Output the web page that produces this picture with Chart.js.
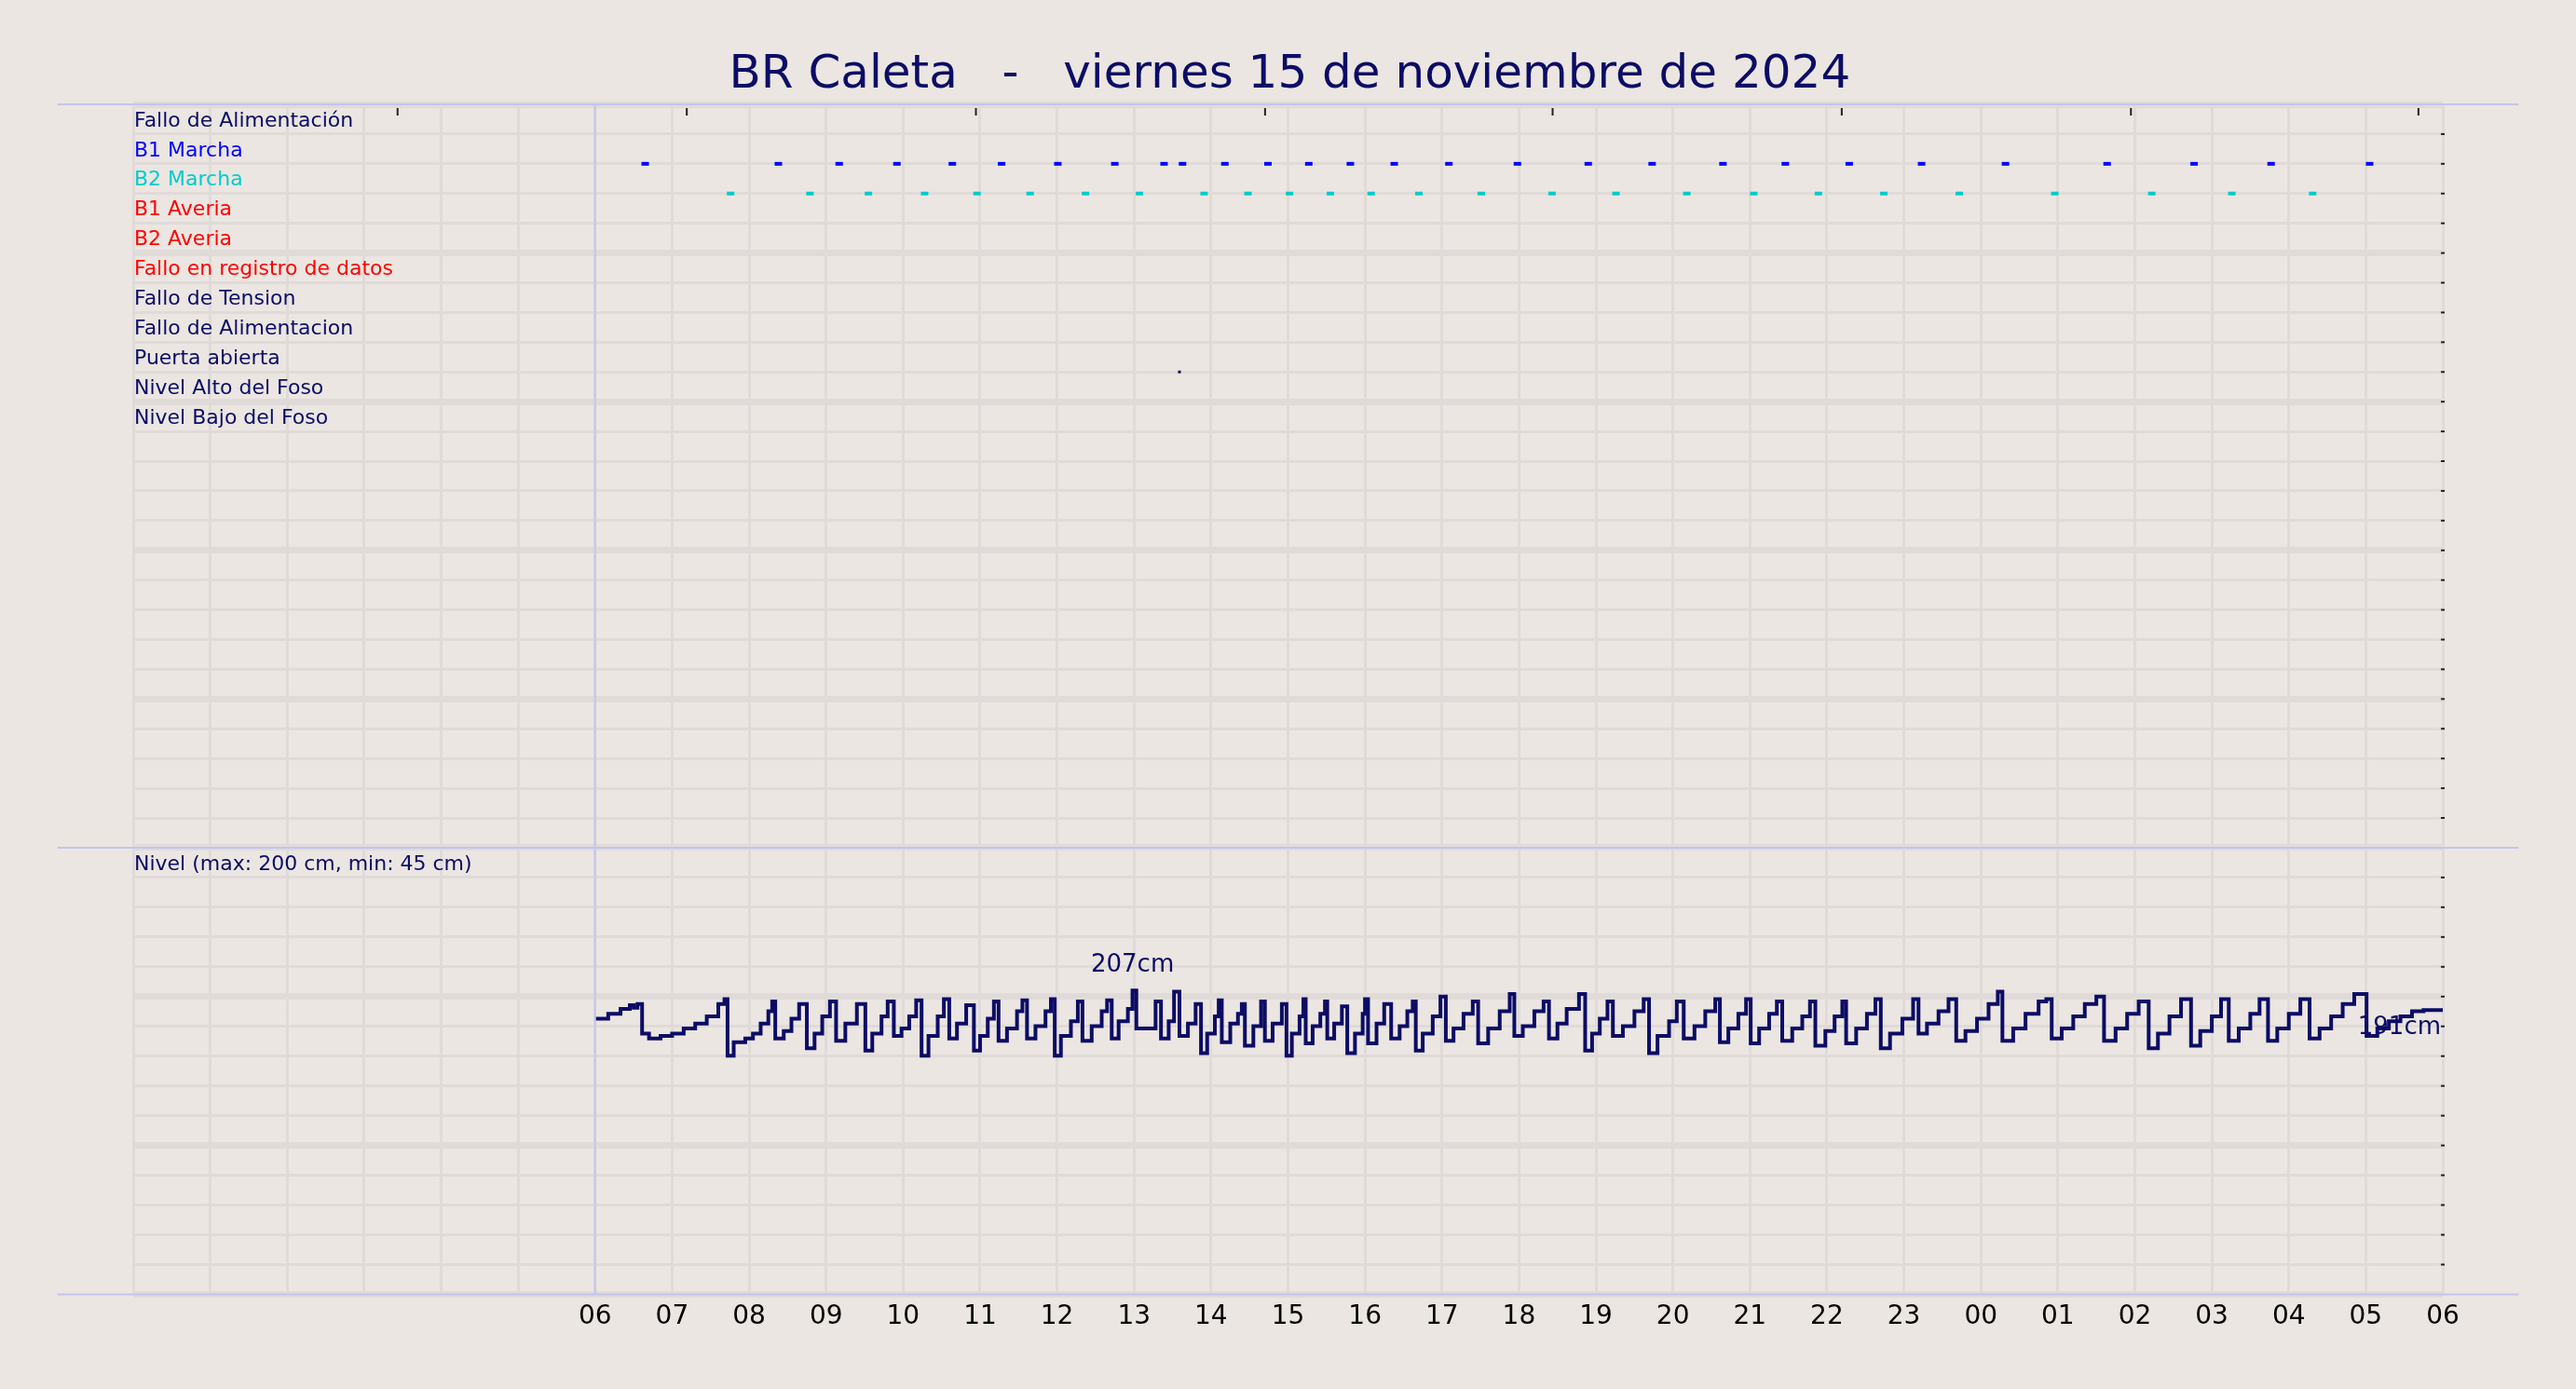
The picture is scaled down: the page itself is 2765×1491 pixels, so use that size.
<!DOCTYPE html>
<html>
<head>
<meta charset="utf-8">
<script src="https://cdn.jsdelivr.net/npm/chart.js@4"></script>
<style>
  body { margin: 0; background: #ebe6e1; }
  #wrap { width: 2765px; height: 1491px; }
</style>
</head>
<body>
<div id="wrap"><canvas id="levelChart"></canvas></div>
<script>
const title = 'BR Caleta   -   viernes 15 de noviembre de 2024';

const rowLabels = ['Fallo de Alimentación', 'B1 Marcha', 'B2 Marcha', 'B1 Averia', 'B2 Averia',
    'Fallo en registro de datos', 'Fallo de Tension', 'Fallo de Alimentacion', 'Puerta abierta',
    'Nivel Alto del Foso', 'Nivel Bajo del Foso'];
const rowColors = ['#0c0c66', '#0000ff', '#00cccc', '#ff0000', '#ff0000', '#ff0000',
    '#0c0c66', '#0c0c66', '#0c0c66', '#0c0c66', '#0c0c66'];

// event start times (hours, 24+ = next day)
const b1Marcha = [6.61, 8.34, 9.13, 9.88, 10.60, 11.24, 11.97, 12.71, 13.35, 13.59, 14.14, 14.70, 15.23,
    15.77, 16.34, 17.05, 17.94, 18.86, 19.69, 20.61, 21.42, 22.25, 23.19, 24.28, 25.60, 26.73, 27.73, 29.01];
const b2Marcha = [7.72, 8.75, 9.51, 10.24, 10.92, 11.61, 12.33, 13.03, 13.87, 14.44, 14.98, 15.51, 16.04,
    16.66, 17.47, 18.39, 19.22, 20.14, 21.01, 21.85, 22.70, 23.68, 24.92, 26.18, 27.22, 28.27];
const puertaAbierta = [13.55];

// level series (cm)
const levelTimes = [
    6.00, 6.17, 6.33, 6.45, 6.50, 6.55,
    6.61, 6.70, 6.85, 7.00, 7.15, 7.30, 7.45, 7.60, 7.68,
    7.72, 7.80, 7.95, 8.05, 8.15, 8.25, 8.30,
    8.34, 8.45, 8.55, 8.65,
    8.75, 8.85, 8.95, 9.05,
    9.13, 9.25, 9.40,
    9.51, 9.60, 9.72, 9.80,
    9.88, 9.98, 10.08, 10.17,
    10.24, 10.33, 10.45, 10.53,
    10.60, 10.70, 10.82,
    10.92, 11.00, 11.10, 11.18,
    11.24, 11.35, 11.48, 11.55,
    11.61, 11.72, 11.85, 11.92,
    11.97, 12.05, 12.18, 12.27,
    12.33, 12.45, 12.58, 12.65,
    12.71, 12.80, 12.92, 12.98,
    13.03, 13.20, 13.28,
    13.35, 13.45, 13.52,
    13.59, 13.70, 13.80,
    13.87, 13.95, 14.05, 14.10,
    14.14, 14.25, 14.35, 14.40,
    14.44, 14.55, 14.65,
    14.70, 14.80, 14.92,
    14.98, 15.05, 15.15, 15.20,
    15.23, 15.32, 15.42, 15.48,
    15.51, 15.60, 15.70,
    15.77, 15.87, 15.97, 16.00,
    16.04, 16.15, 16.25,
    16.34, 16.45, 16.55, 16.62,
    16.66, 16.75, 16.88, 16.98,
    17.05, 17.15, 17.28, 17.40,
    17.47, 17.60, 17.75, 17.88,
    17.94, 18.05, 18.20, 18.32,
    18.39, 18.50, 18.62, 18.78,
    18.86, 18.95, 19.05, 19.15,
    19.22, 19.35, 19.50, 19.62,
    19.69, 19.80, 19.95, 20.05,
    20.14, 20.28, 20.42, 20.55,
    20.61, 20.72, 20.85, 20.95,
    21.01, 21.12, 21.25, 21.35,
    21.42, 21.55, 21.68, 21.78,
    21.85, 21.98, 22.10, 22.20,
    22.25, 22.38, 22.52, 22.63,
    22.70, 22.82, 22.98, 23.12,
    23.19, 23.30, 23.45, 23.58,
    23.68, 23.80, 23.95, 24.10, 24.22,
    24.28, 24.42, 24.58, 24.75, 24.85,
    24.92, 25.05, 25.20, 25.35, 25.50,
    25.60, 25.75, 25.90, 26.05,
    26.18, 26.30, 26.45, 26.60,
    26.73, 26.85, 27.00, 27.12,
    27.22, 27.35, 27.50, 27.62,
    27.73, 27.85, 28.00, 28.15,
    28.27, 28.40, 28.55, 28.70, 28.85,
    29.01, 29.15, 29.30, 29.45, 29.60, 29.75, 30.00];
const levelValues = [
    184, 188, 192, 195, 193, 196,
    172, 168, 170, 172, 176, 180, 186, 196, 200,
    154, 165, 168, 172, 180, 190, 198,
    168, 174, 184, 196,
    160, 172, 186, 198,
    166, 180, 196,
    158, 172, 186, 198,
    170, 176, 186, 199,
    154, 170, 186, 200,
    168, 180, 195,
    158, 170, 184, 198,
    166, 176, 190, 199,
    168, 178, 190, 200,
    154, 170, 182, 198,
    166, 178, 190, 199,
    168, 182, 192, 207,
    176, 176, 198,
    168, 182, 206,
    170, 180, 196,
    156, 172, 186, 199,
    165, 180, 188, 196,
    162, 178, 198,
    166, 180, 196,
    154, 172, 186, 200,
    164, 178, 188, 198,
    168, 180, 194,
    156, 172, 188, 200,
    164, 180, 196,
    168, 178, 190, 198,
    158, 172, 186, 202,
    166, 176, 188, 198,
    164, 176, 190, 204,
    170, 178, 190, 198,
    168, 180, 192, 204,
    158, 172, 184, 198,
    170, 178, 190, 200,
    156, 170, 182, 198,
    168, 178, 190, 200,
    165, 176, 188, 200,
    164, 176, 188, 198,
    166, 176, 186, 198,
    162, 174, 186, 198,
    164, 176, 188, 200,
    160, 172, 184, 200,
    172, 180, 190, 200,
    166, 174, 184, 196, 206,
    166, 176, 188, 198, 200,
    168, 176, 186, 196, 202,
    166, 176, 188, 198,
    160, 172, 186, 200,
    162, 174, 186, 200,
    166, 176, 188, 200,
    166, 176, 188, 200,
    168, 176, 186, 196, 204,
    170, 176, 182, 186, 190, 191, 191];

const hourTicks = [6, 7, 8, 9, 10, 11, 12, 13, 14, 15, 16, 17, 18, 19, 20, 21, 22, 23, 24, 25, 26, 27, 28, 29, 30];

const S = 1.7635;
const navy = '#0c0c66';
const font = 'DejaVu Sans';

const eventPoints = (times, row) => times.map(t => ({ x: t + 0.04, y: row }));

const overlay = {
    id: 'overlay',
    beforeDraw(chart) {
        const c = chart.ctx;
        c.save();
        c.fillStyle = '#ebe6e1';
        c.fillRect(0, 0, chart.width, chart.height);
        c.restore();
    },
    afterDraw(chart) {
        const c = chart.ctx, a = chart.chartArea;
        const x = chart.scales.x, ye = chart.scales.yEv, yl = chart.scales.yLev;
        c.save();
        // panel border lines
        c.strokeStyle = '#c4c4ee';
        c.lineWidth = 2;
        [a.top, ye.bottom, a.bottom].forEach(y => {
            c.beginPath(); c.moveTo(35 * S, y); c.lineTo(1533 * S, y); c.stroke();
        });
        c.beginPath(); c.moveTo(x.getPixelForValue(6), a.top); c.lineTo(x.getPixelForValue(6), a.bottom); c.stroke();
        // small ticks at top
        c.strokeStyle = '#222';
        c.lineWidth = 2;
        [242, 418, 594, 770, 945, 1121, 1297, 1472].forEach(px => {
            c.beginPath(); c.moveTo(px * S, a.top + 4); c.lineTo(px * S, a.top + 12); c.stroke();
        });
        // right-side ticks
        for (let i = 1; i < 25; i++) {
            const y = ye.getPixelForValue(i);
            c.beginPath(); c.moveTo(a.right - 2, y); c.lineTo(a.right + 2, y); c.stroke();
        }
        for (let i = 1; i < 15; i++) {
            const y = yl.top + i * (yl.bottom - yl.top) / 15;
            c.beginPath(); c.moveTo(a.right - 2, y); c.lineTo(a.right + 2, y); c.stroke();
        }
        // title
        c.fillStyle = navy;
        c.font = `${Math.round(28.2 * S)}px "${font}"`;
        c.textAlign = 'center';
        c.textBaseline = 'middle';
        c.fillText(title, 785 * S, 46 * S);
        // row labels
        c.font = `${Math.round(12.7 * S)}px "${font}"`;
        c.textAlign = 'left';
        c.textBaseline = 'bottom';
        rowLabels.forEach((lbl, i) => {
            c.fillStyle = rowColors[i];
            c.fillText(lbl, a.left + 1, ye.getPixelForValue(i + 1) - 3);
        });
        c.fillStyle = navy;
        c.fillText('Nivel (max: 200 cm, min: 45 cm)', a.left + 1, yl.top + (yl.bottom - yl.top) / 15 - 3);
        // level annotations
        c.font = `${Math.round(15 * S)}px "${font}"`;
        c.textAlign = 'center';
        c.textBaseline = 'bottom';
        c.fillText('207cm', x.getPixelForValue(12.98), yl.getPixelForValue(207) - 8 * S);
        c.textAlign = 'right';
        c.textBaseline = 'middle';
        c.fillText('191cm', a.right - 2, yl.getPixelForValue(191) + 11 * S);
        c.restore();
    }
};

const gridColor = '#e0dbd8';

new Chart(document.getElementById('levelChart'), {
    type: 'line',
    data: {
        datasets: [
            {
                label: 'Nivel',
                data: levelTimes.map((t, i) => ({ x: t, y: levelValues[i] })),
                yAxisID: 'yLev',
                stepped: true,
                borderColor: '#0c0c66',
                borderWidth: 4,
                pointRadius: 0
            },
            {
                label: 'B1 Marcha', type: 'scatter', yAxisID: 'yEv',
                data: eventPoints(b1Marcha, 2),
                pointStyle: 'line', radius: 4, borderWidth: 4, borderColor: '#0000ff'
            },
            {
                label: 'B2 Marcha', type: 'scatter', yAxisID: 'yEv',
                data: eventPoints(b2Marcha, 3),
                pointStyle: 'line', radius: 4, borderWidth: 4, borderColor: '#00cccc'
            },
            {
                label: 'Puerta abierta', type: 'scatter', yAxisID: 'yEv',
                data: eventPoints(puertaAbierta, 9),
                pointStyle: 'line', radius: 1.5, borderWidth: 3, borderColor: '#0c0c66'
            }
        ]
    },
    options: {
        responsive: true,
        maintainAspectRatio: false,
        animation: false,
        layout: { padding: { left: 143, right: 143, top: 112, bottom: 52 } },
        plugins: { legend: { display: false }, tooltip: { enabled: false } },
        scales: {
            x: {
                type: 'linear', min: 0, max: 30,
                afterBuildTicks: axis => {
                    axis.ticks = Array.from({ length: 31 }, (_, i) => ({ value: i }));
                },
                ticks: {
                    autoSkip: false, maxRotation: 0, color: '#000',
                    font: { family: font, size: 28 }, padding: 8,
                    callback: v => hourTicks.includes(v) ? String(v % 24).padStart(2, '0') : ''
                },
                grid: { color: gridColor, lineWidth: 3, drawTicks: false },
                border: { display: false }
            },
            yLev: {
                type: 'linear', min: -40, max: 323, position: 'left',
                stack: 'panels', stackWeight: 272.5,
                afterBuildTicks: axis => {
                    axis.ticks = Array.from({ length: 16 }, (_, i) => ({ value: -40 + i * 24.2 }));
                },
                ticks: { display: false },
                grid: { color: gridColor, lineWidth: c => c.index % 5 === 0 ? 7 : 3, drawTicks: false },
                border: { display: false }
            },
            yEv: {
                type: 'linear', min: 0, max: 25, reverse: true,
                stack: 'panels', stackWeight: 453.5, offset: false,
                ticks: { display: false, stepSize: 1 },
                grid: { color: gridColor, lineWidth: c => c.tick.value % 5 === 0 ? 7 : 3, drawTicks: false },
                border: { display: false }
            }
        }
    },
    plugins: [overlay]
});
</script>
</body>
</html>
